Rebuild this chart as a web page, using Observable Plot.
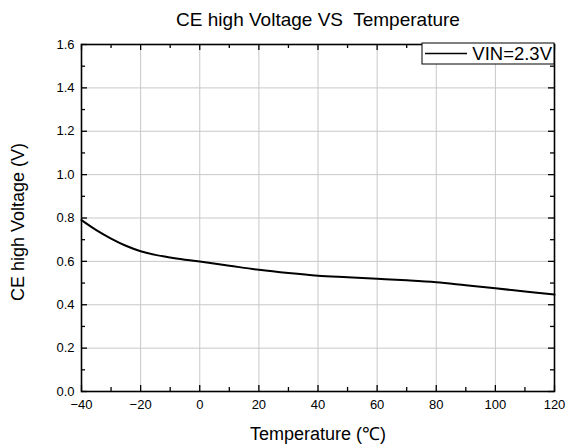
<!DOCTYPE html>
<html>
<head>
<meta charset="utf-8">
<script src="https://cdn.jsdelivr.net/npm/d3@7"></script>
<script src="https://cdn.jsdelivr.net/npm/@observablehq/plot@0.6"></script>
<style>
  html, body { margin: 0; padding: 0; background: #fff; }
  #chart svg { display: block; }
</style>
</head>
<body>
<div id="chart"></div>
<script>
const temperatures = [-40, -35, -30, -25, -20, -15, -10, -5, 0, 10, 20, 30, 40, 50, 60, 70, 80, 90, 100, 110, 120];
const voltages     = [0.790, 0.744, 0.705, 0.672, 0.647, 0.630, 0.618, 0.608, 0.599, 0.580, 0.561, 0.546, 0.534, 0.527, 0.520, 0.513, 0.504, 0.490, 0.476, 0.461, 0.447];
const xTicks = [-40, -20, 0, 20, 40, 60, 80, 100, 120];
const xMinor = [-30, -10, 10, 30, 50, 70, 90, 110];
const yTicks = [0.0, 0.2, 0.4, 0.6, 0.8, 1.0, 1.2, 1.4, 1.6];
const yMinor = [0.1, 0.3, 0.5, 0.7, 0.9, 1.1, 1.3, 1.5];
const seriesName = "VIN=2.3V";
const titleText = "CE high Voltage VS  Temperature";
const xLabel = "Temperature (\u2103)";
const yLabel = "CE high Voltage (V)";

const data = temperatures.map((t, i) => ({t, v: voltages[i]}));
const font = "Liberation Sans, Arial, sans-serif";

function legendMark(index, scales, values, dim) {
  const g = d3.create("svg:g");
  const x1 = dim.width - dim.marginRight;
  const y0 = dim.marginTop - 1;
  const w = 132, h = 21;
  g.append("rect").attr("x", x1 - w).attr("y", y0).attr("width", w).attr("height", h)
    .attr("fill", "white").attr("stroke", "black").attr("stroke-width", 1);
  g.append("line").attr("x1", x1 - w + 3).attr("x2", x1 - w + 45)
    .attr("y1", y0 + h / 2).attr("y2", y0 + h / 2).attr("stroke", "black").attr("stroke-width", 1.5);
  g.append("text").attr("x", x1 - 2).attr("y", y0 + h / 2).attr("dy", "0.36em")
    .attr("text-anchor", "end").attr("font-family", font).attr("font-size", 18.5)
    .text(seriesName);
  return g.node();
}

const chart = Plot.plot({
  width: 568,
  height: 448,
  marginLeft: 81,
  marginRight: 14,
  marginTop: 44,
  marginBottom: 57,
  style: {fontFamily: font, background: "white"},
  x: {domain: [-40, 120]},
  y: {domain: [0, 1.6]},
  marks: [
    Plot.gridX(xTicks.slice(1, -1), {stroke: "#c8c8c8", strokeOpacity: 1}),
    Plot.gridY(yTicks.slice(1, -1), {stroke: "#c8c8c8", strokeOpacity: 1}),
    Plot.line(data, {x: "t", y: "v", curve: "catmull-rom", stroke: "black", strokeWidth: 2}),
    // inward ticks bottom/top
    Plot.tickX(xTicks, {x: d => d, stroke: "black", strokeWidth: 1.3, insetTop: 341}),
    Plot.tickX(xMinor, {x: d => d, stroke: "black", strokeWidth: 1.3, insetTop: 343}),
    Plot.tickX(xTicks, {x: d => d, stroke: "black", strokeWidth: 1.3, insetBottom: 341}),
    Plot.tickX(xMinor, {x: d => d, stroke: "black", strokeWidth: 1.3, insetBottom: 343}),
    // inward ticks left/right
    Plot.tickY(yTicks, {y: d => d, stroke: "black", strokeWidth: 1.3, insetRight: 467}),
    Plot.tickY(yMinor, {y: d => d, stroke: "black", strokeWidth: 1.3, insetRight: 469}),
    Plot.tickY(yTicks, {y: d => d, stroke: "black", strokeWidth: 1.3, insetLeft: 467}),
    Plot.tickY(yMinor, {y: d => d, stroke: "black", strokeWidth: 1.3, insetLeft: 469}),
    Plot.frame({stroke: "black", strokeWidth: 1.6}),
    Plot.axisX(xTicks, {tickSize: 0, tickPadding: 8, fontSize: 13, label: null, fill: "black"}),
    Plot.axisY(yTicks, {tickSize: 0, tickPadding: 7, fontSize: 13, label: null, fill: "black", tickFormat: d3.format(".1f")}),
    Plot.text([titleText], {frameAnchor: "top", lineAnchor: "middle", dy: -25, fontSize: 19, fill: "black"}),
    Plot.text([xLabel], {frameAnchor: "bottom", lineAnchor: "middle", dy: 43, fontSize: 18, fill: "black"}),
    Plot.text([yLabel], {frameAnchor: "left", textAnchor: "middle", lineAnchor: "middle", dx: -63, dy: 4, rotate: -90, fontSize: 18, fill: "black"}),
    legendMark
  ]
});
document.getElementById("chart").appendChild(chart);
</script>
</body>
</html>
